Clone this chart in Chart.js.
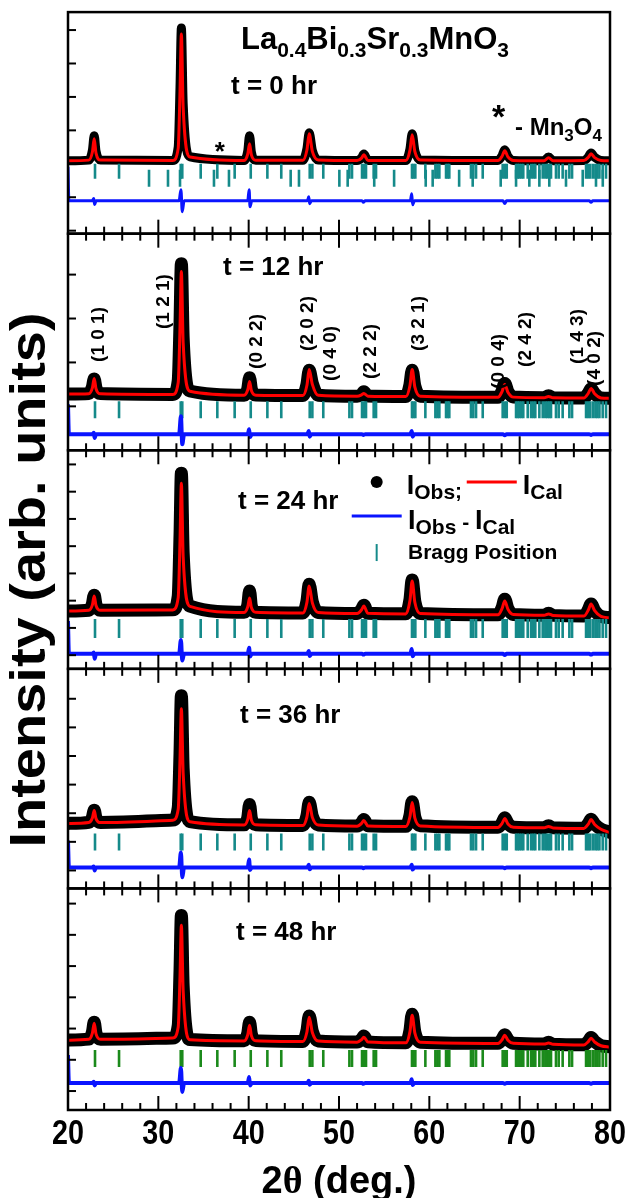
<!DOCTYPE html>
<html>
<head>
<meta charset="utf-8">
<script src="https://cdn.jsdelivr.net/npm/chart.js@4.4.1/dist/chart.umd.min.js"></script>
<style>
  html, body { margin: 0; padding: 0; background: #fff; }
  canvas { display: block; }
</style>
</head>
<body>
<canvas id="grafico" width="629" height="1198"></canvas>
<script>
// 2theta sampling points of the observed / calculated profiles
var twoTheta = [20, 22.3, 22.7, 22.9, 23.1, 23.6, 31.6, 32.2, 32.4, 32.55, 32.75, 33.5, 39.5, 39.9, 40.1, 40.3, 40.8,
  46.0, 46.45, 46.7, 47.05, 47.7, 52.0, 52.5, 52.75, 53.2, 57.4, 57.85, 58.1, 58.4, 59.0, 67.6, 68.05, 68.35, 68.7, 69.3,
  72.7, 73.2, 73.7, 77.1, 77.6, 77.9, 78.3, 79.0, 80];

var obsT0 = [1090, 1110, 1400, 1836, 1380, 1110, 1100, 1500, 3300, 5060, 2800, 1210, 1100, 1380, 1836, 1350, 1105,
  1105, 1450, 1925, 1400, 1115, 1095, 1180, 1290, 1100, 1100, 1440, 1900, 1390, 1110, 1095, 1240, 1420, 1220, 1100,
  1090, 1200, 1090, 1095, 1205, 1320, 1195, 1100, 1090];
var calT0 = [1090, 1110, 1352, 1746, 1320, 1110, 1100, 1469, 3175, 4881, 2682, 1204, 1100, 1293, 1597, 1267, 1105,
  1105, 1412, 1896, 1372, 1115, 1095, 1171, 1269, 1100, 1100, 1400, 1866, 1362, 1110, 1095, 1224, 1388, 1209, 1100,
  1090, 1179, 1090, 1095, 1195, 1299, 1184, 1100, 1090];

var obsT12 = [280, 290, 440, 620, 420, 290, 272, 580, 1900, 3250, 1550, 350, 255, 400, 650, 390, 258,
  246, 500, 820, 520, 252, 230, 270, 330, 233, 223, 490, 820, 460, 232, 206, 350, 520, 335, 211,
  197, 240, 196, 191, 300, 400, 290, 193, 183];
var calT12 = [280, 287, 419, 636, 401, 286, 270, 541, 1804, 3068, 1439, 344, 255, 376, 568, 360, 255,
  245, 479, 841, 500, 250, 229, 262, 295, 232, 222, 468, 841, 437, 230, 205, 337, 500, 322, 210,
  196, 227, 195, 190, 298, 409, 287, 192, 182];

var obsT24 = [620, 650, 880, 1200, 850, 650, 665, 1160, 3400, 5678, 2750, 800, 572, 840, 1355, 800, 578,
  552, 980, 1600, 950, 568, 530, 680, 830, 537, 517, 1030, 1760, 960, 532, 485, 740, 1050, 710, 492,
  464, 540, 460, 437, 665, 880, 640, 422, 380];
var calT24 = [620, 646, 847, 1172, 820, 645, 660, 1116, 3214, 5311, 2608, 790, 570, 776, 1099, 749, 575,
  550, 939, 1538, 919, 565, 528, 666, 806, 535, 515, 995, 1722, 934, 530, 483, 709, 989, 684, 490,
  462, 513, 458, 435, 655, 879, 632, 420, 370];

var obsT36 = [1645, 1680, 1860, 2100, 1840, 1680, 1760, 2180, 4100, 6104, 3550, 1710, 1595, 1850, 2302, 1820, 1600,
  1575, 1910, 2380, 1890, 1590, 1552, 1660, 1780, 1560, 1542, 1910, 2400, 1860, 1560, 1507, 1660, 1840, 1645, 1512,
  1493, 1560, 1490, 1473, 1635, 1790, 1620, 1445, 1335];
var calT36 = [1640, 1673, 1833, 2093, 1812, 1672, 1755, 2140, 3896, 5651, 3388, 1700, 1590, 1785, 2093, 1760, 1595,
  1570, 1871, 2337, 1855, 1585, 1548, 1645, 1744, 1555, 1538, 1870, 2372, 1828, 1555, 1503, 1641, 1814, 1626, 1508,
  1490, 1535, 1488, 1470, 1622, 1779, 1606, 1440, 1325];

var obsT48 = [1635, 1662, 1880, 2200, 1850, 1660, 1700, 2090, 3850, 5623, 3350, 1650, 1608, 1850, 2205, 1820, 1614,
  1588, 1930, 2400, 1905, 1602, 1566, 1660, 1760, 1574, 1546, 1930, 2460, 1880, 1564, 1526, 1660, 1800, 1645, 1531,
  1505, 1560, 1501, 1478, 1595, 1710, 1585, 1454, 1415];
var calT48 = [1629, 1656, 1853, 2173, 1827, 1655, 1695, 2051, 3678, 5304, 3208, 1640, 1605, 1802, 2109, 1776, 1610,
  1585, 1891, 2364, 1875, 1598, 1563, 1643, 1725, 1570, 1543, 1895, 2428, 1851, 1560, 1523, 1641, 1789, 1628, 1528,
  1502, 1540, 1498, 1475, 1582, 1693, 1570, 1450, 1406];

// difference curve (Iobs - Ical), own sampling
var diffTheta = [20, 20.1, 22.7, 22.85, 22.95, 23.1, 32.3, 32.5, 32.65, 32.85, 39.9, 40.05, 40.15, 40.35,
  46.5, 46.65, 46.75, 46.95, 52.55, 52.7, 52.9, 57.9, 58.05, 58.15, 58.35, 68.15, 68.35, 68.55, 77.7, 77.9, 78.1, 80];
var difT0 = [910, -104, -104, -40, -220, -104, -104, 224, -433, -104, -104, 224, -284, -104,
  -104, 15, -194, -104, -104, -150, -104, -104, 105, -224, -104, -104, -190, -104, -104, -150, -104, -104];
var difT12 = [45, -636, -636, -600, -720, -636, -636, -227, -864, -636, -636, -520, -700, -636,
  -636, -560, -690, -636, -636, -650, -636, -636, -560, -690, -636, -636, -660, -636, -636, -650, -636, -636];
var difT24 = [256, -952, -952, -900, -1130, -952, -952, -440, -1200, -952, -952, -730, -1050, -952,
  -952, -850, -1030, -952, -952, -980, -952, -952, -770, -1040, -952, -952, -990, -952, -952, -980, -952, -952];
var difT36 = [1046, 105, 105, 140, 0, 105, 105, 628, -240, 105, 105, 380, 20, 105,
  105, 200, 40, 105, 105, 80, 105, 105, 200, 30, 105, 105, 80, 105, 105, 80, 105, 105];
var difT48 = [1150, 256, 256, 300, 180, 256, 256, 735, -30, 256, 256, 450, 180, 256,
  256, 330, 200, 256, 256, 230, 256, 256, 380, 190, 256, 256, 230, 256, 256, 230, 256, 256];

// Bragg reflections (perovskite phase) and Mn3O4 impurity (t = 0 hr only)
var braggPos = [22.99, 25.65, 32.48, 32.65, 34.69, 36.53, 38.45, 40.23, 42.07, 43.61, 46.76, 47.05, 48.26,
  51.15, 51.44, 52.55, 52.77, 52.99, 53.84, 54.10, 58.08, 58.23, 58.45, 59.56, 60.67, 60.89, 61.11, 61.85, 62.03,
  62.21, 64.61, 64.87, 65.17, 65.91, 68.12, 68.38, 68.57, 69.60, 69.78, 69.96, 70.18, 70.40, 70.89, 71.26, 71.51,
  71.73, 72.18, 72.55, 72.84, 73.06, 73.28, 73.47, 74.02, 74.32, 74.76, 75.50, 75.80, 77.35, 77.57, 77.79, 78.09,
  78.38, 78.60, 78.83, 79.19, 79.56];
var mn3o4Pos = [28.97, 31.07, 32.4, 36.16, 37.82, 44.65, 45.57, 50.04, 50.96, 53.9, 56.1, 59.6, 60.37, 63.3,
  64.8, 67.9, 69.6, 71.07, 72.18, 73.28, 75.13, 76.98, 78.45, 79.2];
var braggLevel = [776, -80, -18, 994, 1038];
var mn3o4Level = 567;

var timeLabels = ['t = 0 hr', 't = 12 hr', 't = 24 hr', 't = 36 hr', 't = 48 hr'];
var xTicks = [20, 30, 40, 50, 60, 70, 80];

var hklLabels = ['(1 0 1)', '(1 2 1)', '(0 2 2)', '(2 0 2)', '(0 4 0)', '(2 2 2)', '(3 2 1)', '(0 0 4)', '(2 4 2)', '(1 4 3)', '(4 0 2)'];
var hklTheta = [23.43, 30.63, 40.92, 46.57, 49.12, 53.54, 58.86, 67.71, 70.70, 76.46, 78.34];
var hklLevel = [1637, 2387, 1477, 1887, 1205, 1250, 1887, 1023, 1523, 1591, 1091];

var SANS = '"Liberation Sans", Arial, Helvetica, sans-serif';

var panels = [
  { obs: obsT0, cal: calT0, dif: difT0, min: -1090, max: 5537, weight: 222, obsW: 9, difW: 3, tick: '#158a8a', tickR: 7.5,
    label: { x: 38.05, y: 3090 } },
  { obs: obsT12, cal: calT12, dif: difT12, min: -1000, max: 3932, weight: 217, obsW: 13, difW: 4, tick: '#158a8a', tickR: 8.5,
    label: { x: 37.16, y: 3000 } },
  { obs: obsT24, cal: calT24, dif: difT24, min: -1502, max: 6520, weight: 219, obsW: 13, difW: 4, tick: '#158a8a', tickR: 9.5,
    label: { x: 38.82, y: 4359 } },
  { obs: obsT36, cal: calT36, dif: difT36, min: -628, max: 7046, weight: 220, obsW: 13, difW: 4, tick: '#158a8a', tickR: 8.5,
    label: { x: 39.04, y: 5162 } },
  { obs: obsT48, cal: calT48, dif: difT48, min: -607, max: 6486, weight: 222, obsW: 13, difW: 4, tick: '#1b8a1b', tickR: 8.5,
    label: { x: 38.6, y: 4824 } }
];

function pts(xs, ys) {
  return xs.map(function(x, i) { return { x: x, y: ys[i] }; });
}

function rich(ctx, parts, x, y, align) {
  var w = 0;
  parts.forEach(function(p) {
    ctx.font = (p[3] || 'bold ') + p[1] + 'px ' + (p[4] || SANS);
    w += ctx.measureText(p[0]).width;
  });
  var cx = align === 'center' ? x - w / 2 : x;
  ctx.textAlign = 'left';
  ctx.textBaseline = 'alphabetic';
  parts.forEach(function(p) {
    ctx.font = (p[3] || 'bold ') + p[1] + 'px ' + (p[4] || SANS);
    ctx.fillText(p[0], cx, y + (p[2] || 0));
    cx += ctx.measureText(p[0]).width;
  });
}

function seg(ctx, x1, y1, x2, y2) {
  ctx.beginPath();
  ctx.moveTo(x1, y1);
  ctx.lineTo(x2, y2);
  ctx.stroke();
}

var datasets = [];
var scales = {
  x: {
    type: 'linear', position: 'bottom', min: 20, max: 80,
    grid: { display: false, drawTicks: false }, border: { display: false },
    afterBuildTicks: function(s) { s.ticks = xTicks.map(function(v) { return { value: v }; }); },
    ticks: { display: false },
    afterFit: function(s) { s.height = 88; s.paddingLeft = 0; s.paddingRight = 0; }
  }
};

panels.forEach(function(p, i) {
  var id = 'y' + i;
  scales[id] = {
    type: 'linear', position: 'left', stack: 'xrd', stackWeight: p.weight, weight: 5 - i,
    min: p.min, max: p.max,
    grid: { display: false, drawTicks: false }, border: { display: false },
    ticks: { display: false },
    afterFit: function(s) { s.width = 0; }
  };
  datasets.push({
    data: pts(twoTheta, p.cal), yAxisID: id, borderColor: '#ff0000', borderWidth: 3,
    pointRadius: 0, cubicInterpolationMode: 'monotone', order: 1
  });
  datasets.push({
    data: pts(diffTheta, p.dif), yAxisID: id, borderColor: '#0a14ff', borderWidth: p.difW,
    pointRadius: 0, cubicInterpolationMode: 'monotone', order: 2
  });
  datasets.push({
    data: braggPos.map(function(x) { return { x: x, y: braggLevel[i] }; }), yAxisID: id, showLine: false,
    pointStyle: 'line', pointRotation: 90, pointRadius: p.tickR, pointBorderColor: p.tick, pointBorderWidth: 2.6,
    order: 3
  });
  if (i === 0) {
    datasets.push({
      data: mn3o4Pos.map(function(x) { return { x: x, y: mn3o4Level }; }), yAxisID: id, showLine: false,
      pointStyle: 'line', pointRotation: 90, pointRadius: 8.5, pointBorderColor: p.tick, pointBorderWidth: 2.6,
      order: 3
    });
  }
  datasets.push({
    data: pts(twoTheta, p.obs), yAxisID: id, borderColor: '#000000', borderWidth: p.obsW,
    borderJoinStyle: 'round', borderCapStyle: 'round',
    pointRadius: 0, cubicInterpolationMode: 'monotone', order: 5
  });
});

var decor = {
  id: 'decor',
  afterDraw: function(chart) {
    var ctx = chart.ctx;
    var xs = chart.scales.x;
    ctx.save();
    ctx.fillStyle = '#000';
    ctx.strokeStyle = '#000';

    panels.forEach(function(p, i) {
      var ys = chart.scales['y' + i];
      var left = xs.left, right = xs.right;
      // inward ticks
      ctx.lineWidth = 2;
      for (var v = 20; v <= 80; v += 2) {
        var px = xs.getPixelForValue(v);
        var len = (v % 10 === 0) ? 14 : 7;
        seg(ctx, px, ys.bottom, px, ys.bottom - len);
        if (i > 0) seg(ctx, px, ys.top, px, ys.top + len);
      }
      for (var t = Math.ceil(p.min / 1000) * 1000; t < p.max; t += 1000) {
        var py = ys.getPixelForValue(t);
        if (py - ys.top > 4 && ys.bottom - py > 2) seg(ctx, left, py, left + 8, py);
      }
      ctx.lineWidth = 2.5;
      ctx.strokeRect(left, ys.top, right - left, ys.bottom - ys.top);

      rich(ctx, [[timeLabels[i], 26]], xs.getPixelForValue(p.label.x), ys.getPixelForValue(p.label.y));
    });

    // x tick labels (narrow bold digits)
    ctx.font = 'bold 35px ' + SANS;
    ctx.textAlign = 'center';
    ctx.textBaseline = 'alphabetic';
    xs.ticks.forEach(function(tk) {
      ctx.save();
      ctx.translate(xs.getPixelForValue(tk.value), 1144);
      ctx.scale(0.82, 1);
      ctx.fillText(String(tk.value), 0, 0);
      ctx.restore();
    });

    // t = 0 hr panel: compound + impurity marks
    var y0 = chart.scales.y0;
    rich(ctx, [['La', 31], ['0.4', 21, 8], ['Bi', 31], ['0.3', 21, 8], ['Sr', 31], ['0.3', 21, 8], ['MnO', 31], ['3', 21, 8]],
      xs.getPixelForValue(39.15), y0.getPixelForValue(4433));
    rich(ctx, [['*', 26]], xs.getPixelForValue(36.8), y0.getPixelForValue(1119), 'center');
    rich(ctx, [['*', 34]], xs.getPixelForValue(67.66), y0.getPixelForValue(2075), 'center');
    rich(ctx, [['- Mn', 24], ['3', 17, 6], ['O', 24], ['4', 17, 6]], xs.getPixelForValue(69.49), y0.getPixelForValue(1866));

    // hkl labels, t = 12 hr panel
    var y1 = chart.scales.y1;
    ctx.font = 'bold 19px ' + SANS;
    ctx.textAlign = 'center';
    ctx.textBaseline = 'middle';
    hklLabels.forEach(function(h, k) {
      ctx.save();
      ctx.translate(xs.getPixelForValue(hklTheta[k]), y1.getPixelForValue(hklLevel[k]));
      ctx.rotate(-Math.PI / 2);
      ctx.fillText(h, 0, 0);
      ctx.restore();
    });

    // legend, t = 24 hr panel
    var y2 = chart.scales.y2;
    ctx.beginPath();
    ctx.arc(xs.getPixelForValue(54.17), y2.getPixelForValue(5359), 6, 0, Math.PI * 2);
    ctx.fill();
    rich(ctx, [['I', 27], ['Obs', 21, 5], [';', 21, 4]], xs.getPixelForValue(57.5), y2.getPixelForValue(4908));
    ctx.lineWidth = 3;
    ctx.strokeStyle = '#ff0000';
    seg(ctx, xs.getPixelForValue(64.14), y2.getPixelForValue(5359), xs.getPixelForValue(69.68), y2.getPixelForValue(5359));
    rich(ctx, [['I', 27], ['Cal', 21, 5]], xs.getPixelForValue(70.34), y2.getPixelForValue(4908));
    ctx.strokeStyle = '#0a14ff';
    seg(ctx, xs.getPixelForValue(51.41), y2.getPixelForValue(4103), xs.getPixelForValue(56.94), y2.getPixelForValue(4103));
    rich(ctx, [['I', 27], ['Obs', 21, 5], [' - ', 21], ['I', 27], ['Cal', 21, 5]], xs.getPixelForValue(57.64), y2.getPixelForValue(3626));
    ctx.strokeStyle = '#158a8a';
    ctx.lineWidth = 2;
    var by = y2.getPixelForValue(2766);
    seg(ctx, xs.getPixelForValue(54.17), by - 8.5, xs.getPixelForValue(54.17), by + 8.5);
    rich(ctx, [['Bragg Position', 21]], xs.getPixelForValue(57.64), y2.getPixelForValue(2527));

    // axis titles
    ctx.save();
    ctx.translate(31, 580);
    ctx.rotate(-Math.PI / 2);
    ctx.scale(1, 0.88);
    ctx.font = 'bold 56px ' + SANS;
    ctx.textAlign = 'center';
    ctx.textBaseline = 'middle';
    ctx.fillText('Intensity (arb. units)', 0, 0);
    ctx.restore();
    rich(ctx, [['2', 38], ['\u03b8', 38, 0, '', '"Liberation Serif", "Times New Roman", serif'], [' (deg.)', 38]], 339, 1193, 'center');

    ctx.restore();
  }
};

var myChart = new Chart(document.getElementById('grafico').getContext('2d'), {
  type: 'line',
  data: { datasets: datasets },
  options: {
    responsive: false,
    animation: false,
    events: [],
    layout: { padding: { left: 68, right: 19, top: 10, bottom: 0 } },
    plugins: { legend: { display: false }, tooltip: { enabled: false } },
    scales: scales
  },
  plugins: [decor]
});
</script>
</body>
</html>
